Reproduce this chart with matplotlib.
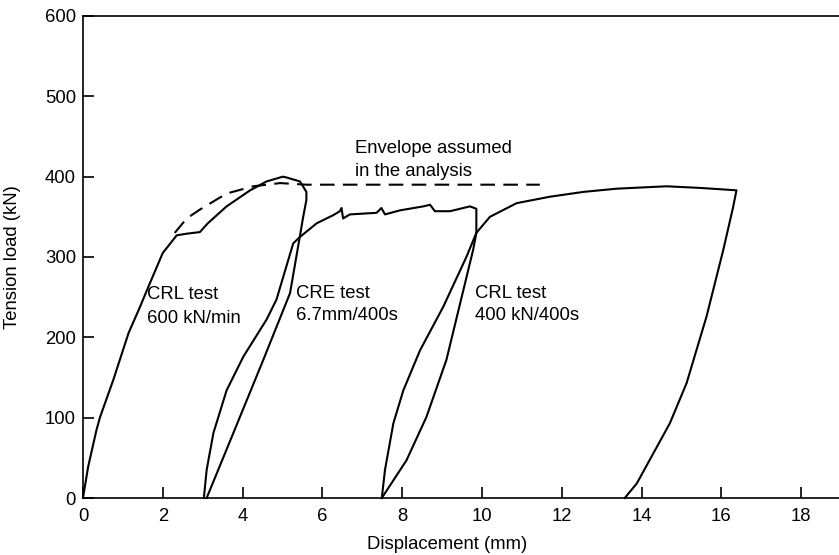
import matplotlib
matplotlib.use("Agg")
import matplotlib.pyplot as plt

plt.rcParams["font.family"] = ["Liberation Sans", "DejaVu Sans"]

# CRL test 600 kN/min: loading, peak, unloading back to ~3.1 mm
crl600_x = [0.0, 0.13, 0.34, 0.43, 0.76, 1.14, 1.43, 1.64, 2.0, 2.35, 2.6, 2.93, 3.13,
            3.6, 4.19, 4.6, 5.01, 5.1, 5.44, 5.6, 5.6, 5.52, 5.42, 5.19, 4.52, 3.77, 3.1]
crl600_y = [0, 39, 85, 101, 147, 205, 238, 263, 305, 327, 329, 331, 342,
            363, 383, 394, 400, 399, 394, 381, 371, 350, 321, 255, 172, 81, 0]

# CRE test 6.7 mm/400 s: reloading, serrated plateau, unloading to ~7.5 mm
cre_x = [3.03, 3.1, 3.27, 3.6, 4.02, 4.6, 4.85, 5.27, 5.44, 5.86, 6.27, 6.44, 6.48, 6.52,
         6.69, 7.36, 7.48, 7.57, 7.94, 8.53, 8.7, 8.82, 9.2, 9.7, 9.86, 9.86, 9.78, 9.11,
         8.61, 8.11, 7.49]
cre_y = [0, 35, 81, 134, 176, 222, 247, 317, 325, 342, 352, 357, 361, 348,
         353, 355, 361, 353, 358, 363, 365, 357, 357, 363, 360, 330, 309, 172,
         101, 47, 0]

# CRL test 400 kN/400 s: reloading, long plateau, unloading to ~13.6 mm
crl400_x = [7.49, 7.57, 7.78, 8.03, 8.45, 9.03, 9.61, 9.86, 10.2, 10.87, 11.7, 12.54,
            13.37, 14.2, 14.63, 15.46, 16.38, 16.3, 16.05, 15.63, 15.13, 14.71, 13.88, 13.58]
crl400_y = [0, 35, 93, 134, 184, 238, 300, 330, 350, 367, 375, 381,
            385, 387, 388, 386, 383, 363, 309, 226, 143, 93, 18, 0]

# envelope assumed in the analysis (dashed)
env_x = [2.3, 2.6, 2.93, 3.6, 4.27, 4.94, 5.6, 11.45]
env_y = [330, 348, 359, 379, 388, 392, 390, 390]

x_ticks = [0, 2, 4, 6, 8, 10, 12, 14, 16, 18]
y_ticks = [0, 100, 200, 300, 400, 500, 600]

fig = plt.figure(figsize=(8.39, 5.55), dpi=100)
ax = fig.add_axes([0.0989, 0.1027, 0.9011, 0.8685])

for xs, ys in [(crl600_x, crl600_y), (cre_x, cre_y), (crl400_x, crl400_y)]:
    ax.plot(xs, ys, color="black", lw=1.5, clip_on=False, solid_joinstyle="round")
ax.plot(env_x, env_y, color="black", lw=1.5, dashes=(7, 4))

ax.set_xlim(0, 18.95)
ax.set_ylim(0, 600)
ax.set_xticks(x_ticks)
ax.set_yticks(y_ticks)
ax.tick_params(direction="in", length=8, width=1.2, labelsize=13.3, pad=5)
ax.tick_params(axis="x", pad=7)
ax.spines["right"].set_visible(False)
for s in ["left", "bottom", "top"]:
    ax.spines[s].set_linewidth(1.2)

ax.set_xlabel("Displacement (mm)", fontsize=13.3)
ax.xaxis.set_label_coords(0.482, -0.078)
ax.set_ylabel("Tension load (kN)", fontsize=13.3)
ax.yaxis.set_label_coords(-0.082, 0.5)

fs = 13.3
ax.text(1.6, 253, "CRL test", fontsize=fs, va="center")
ax.text(1.6, 224, "600 kN/min", fontsize=fs, va="center")
ax.text(5.35, 255, "CRE test", fontsize=fs, va="center")
ax.text(5.35, 227, "6.7mm/400s", fontsize=fs, va="center")
ax.text(9.82, 255, "CRL test", fontsize=fs, va="center")
ax.text(9.82, 227, "400 kN/400s", fontsize=fs, va="center")
ax.text(6.82, 435, "Envelope assumed", fontsize=fs, va="center")
ax.text(6.82, 406, "in the analysis", fontsize=fs, va="center")

fig.savefig("out.png", dpi=100)
